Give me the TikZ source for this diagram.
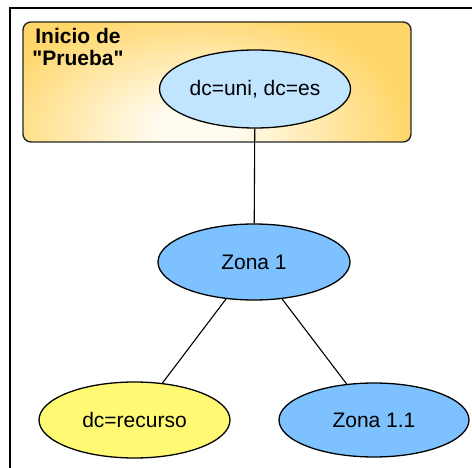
\documentclass[tikz,border=0pt]{standalone}
\usepackage{fontspec}
\setmainfont{Liberation Sans}[Ligatures=TeXOff]
\usetikzlibrary{shapes.geometric}
\definecolor{boxedge}{RGB}{255,214,105}
\definecolor{boxlight}{RGB}{255,251,238}
\definecolor{lightblue}{RGB}{194,229,255}
\definecolor{midblue}{RGB}{126,193,255}
\definecolor{lyellow}{RGB}{255,249,115}
\tikzset{
  ent/.style={ellipse, draw=black, line width=1.3pt, inner sep=0pt, font=\fontsize{21}{24}\selectfont},
  link/.style={draw=black, line width=1.1pt},
  frame/.style={draw=black, line width=1.2pt},
}
\begin{document}
\begin{tikzpicture}[x=1pt,y=-1pt]
\useasboundingbox (0,0) rectangle (472,468);
% frame
\coordinate (fa) at (10,468);
\coordinate (fb) at (10,8);
\coordinate (fc) at (472,8);
\draw[frame] (fa) -- (fb) -- (fc);
% group box with soft radial gradient
\begin{scope}
  \clip[rounded corners=8pt] (23,22) rectangle (411,142);
  \fill[boxedge] (23,22) rectangle (411,142);
  \foreach \i in {1,...,48}{
    \pgfmathsetmacro{\f}{1-\i/50}
    \pgfmathsetmacro{\p}{min(100,\i*100/40)}
    \fill[boxlight!\p!boxedge] (195,130) ellipse [x radius=\f*215pt, y radius=\f*125pt];
  }
\end{scope}
\draw[black!85, line width=1.4pt, rounded corners=8pt] (23,22) rectangle (411,142);
\node[align=center, font=\bfseries\fontsize{21}{22}\selectfont, inner sep=0pt] (title) at (78,47) {Inicio de\\"Prueba"};
% entries
\node[ent, fill=lightblue, minimum width=191pt, minimum height=78pt] (root) at (255,89) {dc=uni, dc=es};
\node[ent, fill=midblue, minimum width=192pt, minimum height=76pt] (z1) at (254,262) {Zona 1};
\node[ent, fill=lyellow, minimum width=191pt, minimum height=76pt] (rec) at (134.5,420) {dc=recurso};
\node[ent, fill=midblue, minimum width=190pt, minimum height=74pt] (z11) at (374,420) {Zona 1.1};
% links
\draw[link] (root) -- (z1);
\draw[link] (z1) -- (rec);
\draw[link] (z1) -- (z11);
\end{tikzpicture}
\end{document}
